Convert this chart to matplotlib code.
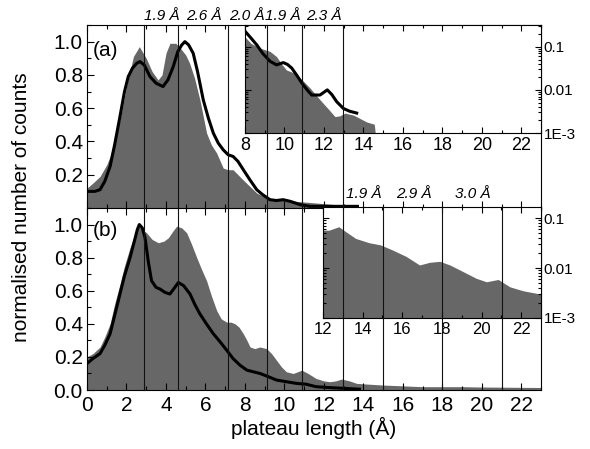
import matplotlib
matplotlib.use("Agg")
import matplotlib.pyplot as plt
from matplotlib.lines import Line2D
from matplotlib.ticker import MultipleLocator, LogLocator, NullFormatter
import matplotlib.transforms as mtransforms

plt.rcParams['font.family'] = ['Liberation Sans', 'DejaVu Sans']

GRAY = '#676767'

# ---- panel (a), linear scale
xa_fill = [0, 0.3, 0.66, 1.0, 1.17, 1.4, 1.67, 2.0, 2.35, 2.65, 3.0, 3.3, 3.6, 3.8,
           4.0, 4.2, 4.5, 4.8, 5.0, 5.2, 5.45, 5.72, 6.06, 6.3, 6.57, 6.9, 7.15, 7.4,
           7.65, 7.9, 8.25, 8.6, 9.1, 9.6, 10.1, 10.6, 11.1, 11.6, 12.1, 12.6, 13.1,
           13.6, 14.1, 14.6]
ya_fill = [0.12, 0.15, 0.19, 0.26, 0.31, 0.41, 0.53, 0.73, 0.91, 0.97, 0.90, 0.82, 0.77, 0.80,
           0.93, 0.99, 0.99, 0.95, 0.92, 0.87, 0.78, 0.65, 0.45, 0.38, 0.33, 0.24, 0.23, 0.23,
           0.20, 0.17, 0.13, 0.09, 0.06, 0.05, 0.045, 0.04, 0.035, 0.03, 0.025, 0.02, 0.015,
           0.01, 0.005, 0.0]
xa_line = [0, 0.4, 0.66, 0.9, 1.17, 1.4, 1.67, 1.9, 2.09, 2.3, 2.52, 2.68, 2.9, 3.19, 3.5,
           3.85, 4.1, 4.37, 4.6, 4.8, 4.96, 5.15, 5.38, 5.6, 5.89, 6.15, 6.4, 6.65, 6.9,
           7.15, 7.4, 7.65, 7.92, 8.25, 8.6, 8.9, 9.27, 9.6, 9.94, 10.3, 10.8, 11.3, 12.0,
           13.0, 13.7]
ya_line = [0.10, 0.10, 0.11, 0.16, 0.25, 0.38, 0.55, 0.70, 0.79, 0.84, 0.87, 0.88, 0.86, 0.79, 0.75,
           0.73, 0.77, 0.85, 0.94, 0.98, 1.0, 0.98, 0.93, 0.82, 0.65, 0.54, 0.45, 0.39, 0.35,
           0.32, 0.31, 0.28, 0.23, 0.17, 0.11, 0.08, 0.05, 0.045, 0.05, 0.04, 0.02, 0.01, 0.01,
           0.01, 0.01]

# ---- panel (b), linear scale
xb_fill = [0, 0.3, 0.66, 0.9, 1.17, 1.4, 1.67, 1.9, 2.18, 2.4, 2.6, 2.8, 3.02, 3.3, 3.61,
           3.9, 4.12, 4.35, 4.54, 4.8, 5.05, 5.3, 5.56, 5.8, 6.06, 6.3, 6.57, 6.8, 7.08,
           7.3, 7.5, 7.7, 7.92, 8.1, 8.26, 8.5, 8.76, 9.1, 9.35, 9.6, 9.85, 10.1, 10.45,
           10.88, 11.2, 11.6, 12.0, 12.3, 12.6, 12.9, 13.3, 13.66, 14.3, 15.0, 16.0, 17.0,
           18.0, 19.0, 20.0, 21.0, 22.0, 23.0]
yb_fill = [0.20, 0.22, 0.26, 0.32, 0.40, 0.52, 0.64, 0.75, 0.86, 0.93, 0.99, 0.97, 0.95, 0.91, 0.89,
           0.90, 0.92, 0.96, 0.99, 0.98, 0.95, 0.88, 0.80, 0.73, 0.66, 0.57, 0.48, 0.43, 0.41,
           0.41, 0.40, 0.38, 0.34, 0.30, 0.26, 0.25, 0.26, 0.25, 0.22, 0.18, 0.14, 0.11, 0.10,
           0.12, 0.10, 0.07, 0.055, 0.05, 0.055, 0.066, 0.055, 0.04, 0.035, 0.03, 0.025, 0.02,
           0.02, 0.02, 0.018, 0.017, 0.016, 0.015]
xb_line = [0, 0.3, 0.66, 0.9, 1.17, 1.4, 1.67, 1.9, 2.18, 2.4, 2.55, 2.65, 2.8, 2.94, 3.1,
           3.27, 3.5, 3.7, 3.95, 4.2, 4.45, 4.63, 4.9, 5.22, 5.45, 5.72, 6.05, 6.4, 6.75,
           7.08, 7.4, 7.75, 8.1, 8.43, 8.76, 9.2, 9.6, 10.1, 10.6, 11.1, 11.6, 12.2, 13.0, 13.8]
yb_line = [0.16, 0.19, 0.22, 0.27, 0.34, 0.45, 0.58, 0.69, 0.80, 0.90, 0.97, 1.0, 0.98, 0.92, 0.78,
           0.66, 0.62, 0.61, 0.59, 0.58, 0.62, 0.65, 0.63, 0.58, 0.52, 0.46, 0.40, 0.34, 0.29,
           0.24, 0.19, 0.15, 0.12, 0.11, 0.10, 0.08, 0.06, 0.05, 0.04, 0.035, 0.02, 0.015, 0.01, 0.005]

# ---- inset of (a), log scale
xia_fill = [8.0, 8.3, 8.76, 9.27, 9.6, 9.85, 10.1, 10.45, 10.9, 11.3, 11.8, 12.2, 12.56,
            12.8, 13.07, 13.5, 14.17, 14.55, 14.6]
yia_fill = [0.17, 0.12, 0.093, 0.078, 0.059, 0.04, 0.029, 0.025, 0.017, 0.011, 0.0059, 0.0037,
            0.0024, 0.0025, 0.0029, 0.0026, 0.0018, 0.0016, 0.001]
xia_line = [8.0, 8.3, 8.6, 8.9, 9.27, 9.6, 9.94, 10.15, 10.37, 10.65, 10.9, 11.15, 11.38,
            11.8, 12.17, 12.4, 12.65, 12.99, 13.3, 13.66]
yia_line = [0.23, 0.16, 0.11, 0.07, 0.046, 0.038, 0.043, 0.039, 0.032, 0.021, 0.014, 0.010,
            0.0076, 0.0076, 0.010, 0.0078, 0.0053, 0.0037, 0.0032, 0.0029]

# ---- inset of (b), log scale
xib_fill = [12.0, 12.3, 12.8, 13.1, 13.65, 14.33, 14.9, 15.5, 16.2, 16.87, 17.38, 17.9,
            18.4, 19.06, 19.74, 20.25, 20.84, 21.43, 22.1, 23.0]
yib_fill = [0.057, 0.057, 0.067, 0.055, 0.039, 0.032, 0.029, 0.023, 0.017, 0.0115, 0.013,
            0.0136, 0.0115, 0.0085, 0.0062, 0.0053, 0.0059, 0.0042, 0.0035, 0.0030]

# marker lines and spacing labels
lines_ab = [2.89, 4.63, 7.15, 9.13, 10.87, 12.99]
lines_b = [15.0, 18.0, 21.0]
labels_a = ["1.9 Å", "2.6 Å", "2.0 Å", "1.9 Å", "2.3 Å"]
labels_a_x = [3.78, 5.9, 8.09, 9.9, 12.0]
labels_b = ["1.9 Å", "2.9 Å", "3.0 Å"]
labels_b_x = [14.0, 16.57, 19.56]

W, H = 590, 449
fig = plt.figure(figsize=(W / 100, H / 100), dpi=100)


def px_rect(left, top, right, bottom):
    return [left / W, 1 - bottom / H, (right - left) / W, (bottom - top) / H]


ax_a = fig.add_axes(px_rect(87, 25, 541, 208))
ax_b = fig.add_axes(px_rect(87, 208, 541, 390))

for ax in (ax_a, ax_b):
    ax.set_xlim(0, 23)
    ax.set_ylim(0, 1.1)
    ax.xaxis.set_major_locator(MultipleLocator(2))
    ax.xaxis.set_minor_locator(MultipleLocator(1))
    ax.yaxis.set_minor_locator(MultipleLocator(0.1))
    ax.tick_params(which='both', direction='in', top=True, bottom=True, right=False,
                   labelsize=15, width=0.8)
    ax.tick_params(which='major', length=5)
    ax.tick_params(which='minor', length=3)
    ax.tick_params(axis='y', pad=3)
    for s in ax.spines.values():
        s.set_linewidth(0.8)

ax_a.fill_between(xa_fill, 0, ya_fill, color=GRAY, lw=0)
ax_a.plot(xa_line, ya_line, color='black', lw=2.2)
ax_a.set_yticks([0.2, 0.4, 0.6, 0.8, 1.0])
ax_a.set_yticklabels(['0.2', '0.4', '0.6', '0.8', '1.0'])
ax_a.tick_params(axis='x', labelbottom=False)
ax_a.spines['bottom'].set_visible(False)
ax_a.text(0.012, 0.86, '(a)', transform=ax_a.transAxes, fontsize=15, va='center', ha='left')

ax_b.fill_between(xb_fill, 0, yb_fill, color=GRAY, lw=0)
ax_b.plot(xb_line, yb_line, color='black', lw=2.2)
ax_b.set_yticks([0.0, 0.2, 0.4, 0.6, 0.8, 1.0])
ax_b.set_yticklabels(['0.0', '0.2', '0.4', '0.6', '0.8', '1.0'])
ax_b.tick_params(axis='x', pad=4)
ax_b.set_xlabel('plateau length (Å)', fontsize=15, labelpad=2)
ax_b.text(0.012, 0.876, '(b)', transform=ax_b.transAxes, fontsize=15, va='center', ha='left')

fig.text(22 / W, 1 - 207 / H, 'normalised number of counts', rotation=90,
         fontsize=15, ha='center', va='center')

# insets
ins_a = fig.add_axes(px_rect(245, 25, 541, 133))
ins_a.fill_between(xia_fill, 1e-4, yia_fill, color=GRAY, lw=0)
ins_a.plot(xia_line, yia_line, color='black', lw=2.2)
ins_a.set_xlim(8, 23)
ins_a.set_yscale('log')
ins_a.set_ylim(1e-3, 0.32)

ins_b = fig.add_axes(px_rect(323, 207, 541, 318))
ins_b.fill_between(xib_fill, 1e-4, yib_fill, color=GRAY, lw=0)
ins_b.set_xlim(12, 23)
ins_b.set_yscale('log')
ins_b.set_ylim(1e-3, 0.166)

for ins, xl in ((ins_a, 13), (ins_b, 12)):
    ins.xaxis.set_major_locator(MultipleLocator(2))
    ins.xaxis.set_minor_locator(MultipleLocator(1))
    ins.set_yticks([1e-3, 1e-2, 1e-1])
    ins.set_yticklabels(['1E-3', '0.01', '0.1'])
    ins.yaxis.set_minor_locator(LogLocator(base=10, subs=range(2, 10)))
    ins.yaxis.set_minor_formatter(NullFormatter())
    ins.yaxis.tick_right()
    ins.tick_params(which='both', direction='in', left=True, right=True, top=True, bottom=True,
                    width=0.8)
    ins.tick_params(which='major', length=4)
    ins.tick_params(which='minor', length=2)
    ins.tick_params(axis='x', labelsize=xl, pad=3)
    ins.tick_params(axis='y', labelsize=11, pad=2)
    for s in ins.spines.values():
        s.set_linewidth(0.8)

# vertical marker lines drawn over everything
trans = mtransforms.blended_transform_factory(ax_b.transData, fig.transFigure)
for xv in lines_ab:
    fig.add_artist(Line2D([xv, xv], [1 - 390 / H, 1 - 25 / H], transform=trans,
                          color='#111111', lw=0.8, zorder=5))
for xv in lines_b:
    fig.add_artist(Line2D([xv, xv], [1 - 390 / H, 1 - 207 / H], transform=trans,
                          color='#111111', lw=0.8, zorder=5))

for lab, xv in zip(labels_a, labels_a_x):
    fig.text(xv, 1 - 16 / H, lab, transform=trans, fontsize=11, style='italic',
             ha='center', va='center')
for lab, xv in zip(labels_b, labels_b_x):
    fig.text(xv, 1 - 194 / H, lab, transform=trans, fontsize=11, style='italic',
             ha='center', va='center')

fig.savefig('out.png', dpi=100)
